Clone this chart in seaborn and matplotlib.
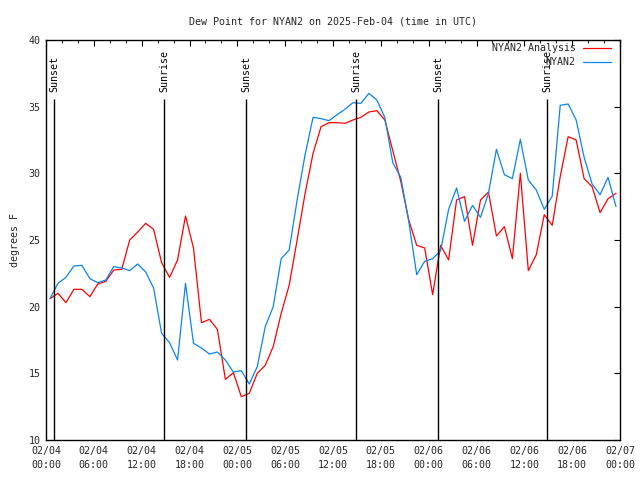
import numpy as np
import pandas as pd
import matplotlib
matplotlib.use("Agg")
import matplotlib.pyplot as plt
import matplotlib.dates as mdates
import seaborn as sns

# ---------------- data ----------------
start_time = "2025-02-04 00:30"
analysis_vals = [20.6, 21.0, 20.3, 21.3, 21.3, 20.75, 21.7, 21.9, 22.75, 22.8,
                 25.0, 25.6, 26.25, 25.8, 23.3, 22.2, 23.5, 26.8, 24.4, 18.8,
                 19.05, 18.3, 14.55, 15.05, 13.25, 13.5, 15.0, 15.6, 17.0, 19.5,
                 21.6, 25.0, 28.5, 31.5, 33.5, 33.8, 33.8, 33.75, 34.0, 34.2,
                 34.6, 34.7, 34.0, 31.7, 29.4, 26.5, 24.6, 24.4, 20.9, 24.6,
                 23.5, 28.0, 28.25, 24.6, 28.0, 28.6, 25.3, 26.0, 23.6, 30.0,
                 22.7, 23.9, 26.9, 26.1, 29.75, 32.75, 32.5, 29.6, 29.0, 27.05,
                 28.1, 28.5]
station_vals = [20.6, 21.75, 22.2, 23.05, 23.1, 22.1, 21.8, 22.0, 23.0, 22.9,
                22.7, 23.2, 22.6, 21.4, 18.0, 17.3, 16.0, 21.75, 17.25, 16.9,
                16.45, 16.6, 16.0, 15.1, 15.2, 14.2, 15.5, 18.5, 20.0, 23.6,
                24.25, 28.0, 31.4, 34.2, 34.1, 33.95, 34.4, 34.8, 35.3, 35.25,
                36.0, 35.5, 34.2, 30.8, 29.7, 26.4, 22.4, 23.4, 23.6, 24.2,
                27.3, 28.9, 26.4, 27.6, 26.7, 28.5, 31.8, 29.9, 29.6, 32.55,
                29.5, 28.75, 27.3, 28.3, 35.1, 35.2, 34.0, 31.2, 29.2, 28.4,
                29.7, 27.5]
series_names = ["NYAN2 Analysis", "NYAN2"]
series_colors = ["#ff0000", "#0a84f0"]

sun_times = ["2025-02-04 01:00", "2025-02-04 14:48", "2025-02-05 01:06",
             "2025-02-05 14:54", "2025-02-06 01:12", "2025-02-06 14:54"]
sun_labels = ["Sunset", "Sunrise", "Sunset", "Sunrise", "Sunset", "Sunrise"]

title = "Dew Point for NYAN2 on 2025-Feb-04 (time in UTC)"
ylabel = "degrees F"

times = pd.date_range(start_time, periods=len(analysis_vals), freq="h")
df = pd.concat([
    pd.DataFrame({"time": times, "dewpoint": analysis_vals, "series": series_names[0]}),
    pd.DataFrame({"time": times, "dewpoint": station_vals, "series": series_names[1]}),
])

# ---------------- plot ----------------
sns.set_style("white")
plt.rcParams["font.family"] = ["DejaVu Sans Mono"]
fs = 7.2

fig = plt.figure(figsize=(6.4, 4.8), dpi=100)
ax = fig.add_axes([46 / 640, 1 - 440 / 480, 574 / 640, 400 / 480])

sns.lineplot(data=df, x="time", y="dewpoint", hue="series",
             hue_order=series_names, palette=series_colors,
             linewidth=0.9, ax=ax)

ax.set_xlim(pd.Timestamp("2025-02-04 00:00"), pd.Timestamp("2025-02-07 00:00"))
ax.set_ylim(10, 40)

# sunrise / sunset markers
for t, lab in zip(pd.to_datetime(sun_times), sun_labels):
    ax.vlines(t, 10, 35.6, color="black", linewidth=1.0)
    ax.text(t, 36.1, lab, rotation=90, ha="center", va="bottom",
            fontsize=fs, color="black")

ax.xaxis.set_major_locator(mdates.HourLocator(byhour=[0, 6, 12, 18]))
ax.xaxis.set_minor_locator(mdates.HourLocator(byhour=range(0, 24, 2)))
ax.xaxis.set_major_formatter(mdates.DateFormatter("%m/%d\n%H:%M"))
ax.set_yticks([10, 15, 20, 25, 30, 35, 40])

ax.tick_params(axis="both", which="major", direction="in", length=4.5,
               width=0.8, top=True, right=True, labelsize=fs, pad=4, color="black")
ax.tick_params(axis="both", which="minor", direction="in", length=2.2,
               width=0.8, top=True, right=True)
ax.tick_params(axis="y", which="minor", left=False, right=False)
for lbl in ax.get_xticklabels():
    lbl.set_linespacing(1.55)

for sp in ax.spines.values():
    sp.set_color("black")
    sp.set_linewidth(1.0)

ax.set_xlabel("")
ax.set_ylabel(ylabel, fontsize=fs, labelpad=6)
ax.set_title(title, fontsize=fs, pad=11)

handles, labels = ax.get_legend_handles_labels()
leg = ax.legend(handles, labels, loc="upper right",
                bbox_to_anchor=(0.984, 0.992), frameon=False,
                markerfirst=False, fontsize=fs, handlelength=2.8,
                handletextpad=0.7, labelspacing=0.4,
                borderaxespad=0.0, borderpad=0.0)

fig.savefig("out.png", dpi=100)
